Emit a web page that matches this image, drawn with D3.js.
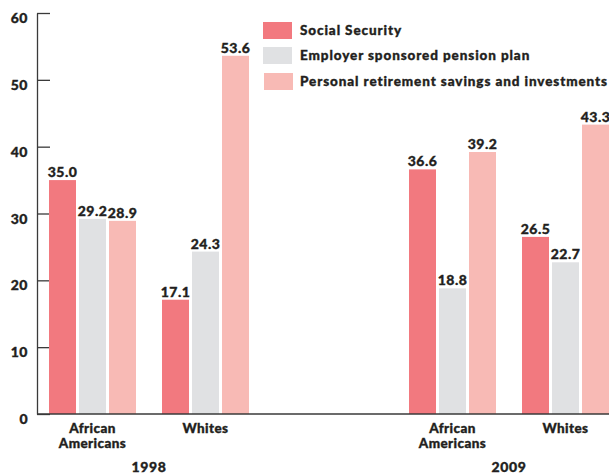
<!DOCTYPE html>
<html>
<head>
<meta charset="utf-8">
<script src="https://cdn.jsdelivr.net/npm/d3@7"></script>
<style>
  body { margin: 0; background: #fff; }
  svg { display: block; }
  text { font-family: Lato, "Open Sans", sans-serif; font-weight: 900; fill: #231f20; stroke: #231f20; stroke-width: 0.35px; }
</style>
</head>
<body>
<svg id="chart" width="609" height="474"></svg>
<script>
const years = ["1998", "2009"];
const categories = ["African Americans", "Whites"];
const series = ["Social Security", "Employer sponsored pension plan", "Personal retirement savings and investments"];
const colors = ["#f2797f", "#e0e1e3", "#f8bab5"];
const values1998 = [[35.0, 29.2, 28.9], [17.1, 24.3, 53.6]];
const values2009 = [[36.6, 18.8, 39.2], [26.5, 22.7, 43.3]];
const yTicks = [0, 10, 20, 30, 40, 50, 60];

const valuesByYear = { "1998": values1998, "2009": values2009 };

const svg = d3.select("#chart");
const y = d3.scaleLinear().domain([0, 60]).range([414, 13]);
const x0 = d3.scaleBand().domain(years).range([49, 609]).paddingInner(160 / 360).paddingOuter(0);
const x1 = d3.scaleBand().domain(categories).range([0, x0.bandwidth()]).paddingInner(26 / 113).paddingOuter(0);
const x2 = d3.scaleBand().domain(d3.range(series.length)).range([0, x1.bandwidth()]).paddingInner(0.1).paddingOuter(0);

// Y axis
const yAxis = d3.axisLeft(y).tickValues(yTicks).tickSizeInner(-13).tickSizeOuter(0).tickPadding(9).tickFormat(d3.format("d"));
const gy = svg.append("g").attr("transform", "translate(37,0)").call(yAxis);
gy.select(".domain").attr("stroke", "#3a3a3a").attr("stroke-width", 1.3);
gy.selectAll(".tick line").attr("stroke", "#3a3a3a").attr("stroke-width", 1.3);
gy.selectAll(".tick text").attr("font-size", 14).attr("dy", "0.68em").attr("letter-spacing", 0.5)
  .attr("font-family", "Lato, sans-serif").attr("font-weight", 900).attr("fill", "#231f20");

// Bars
const flat = [];
years.forEach(yr => categories.forEach((c, ci) => series.forEach((s, si) => {
  flat.push({ yr, c, si, v: valuesByYear[yr][ci][si] });
})));

const barX = d => x0(d.yr) + x1(d.c) + x2(d.si);

svg.append("g").selectAll("rect").data(flat).join("rect")
  .attr("x", barX)
  .attr("y", d => y(d.v))
  .attr("width", x2.bandwidth())
  .attr("height", d => y(0) - y(d.v))
  .attr("fill", d => colors[d.si]);

svg.append("g").selectAll("text").data(flat).join("text")
  .attr("x", d => barX(d) + x2.bandwidth() / 2)
  .attr("y", d => y(d.v) - 3)
  .attr("text-anchor", "middle")
  .attr("font-size", 14)
  .attr("letter-spacing", 0.5)
  .text(d => d.v.toFixed(1));

// Baseline
svg.append("line").attr("x1", 37).attr("x2", 609).attr("y1", y(0)).attr("y2", y(0))
  .attr("stroke", "#3a3a3a").attr("stroke-width", 1.6);

// Category labels
years.forEach(yr => {
  categories.forEach(c => {
    const cx = x0(yr) + x1(c) + x1.bandwidth() / 2;
    const t = svg.append("text").attr("text-anchor", "middle").attr("font-size", 13.5).attr("letter-spacing", 0.4);
    const words = c.split(" ");
    words.forEach((w, i) => {
      t.append("tspan").attr("x", cx).attr("y", 433 + i * 15).text(w);
    });
  });
  svg.append("text").attr("x", x0(yr) + x0.bandwidth() / 2).attr("y", 472)
    .attr("text-anchor", "middle").attr("font-size", 14).attr("letter-spacing", 0.6).text(yr);
});

// Legend
const legendY = [22, 47, 73];
const legendX = [263, 263, 264];
const lg = svg.append("g");
series.forEach((s, i) => {
  lg.append("rect").attr("x", legendX[i]).attr("y", legendY[i]).attr("width", 29).attr("height", 17).attr("fill", colors[i]);
  lg.append("text").attr("x", 300).attr("y", legendY[i] + 13).attr("font-size", 13.5).attr("letter-spacing", 0.9).text(s);
});
</script>
</body>
</html>
